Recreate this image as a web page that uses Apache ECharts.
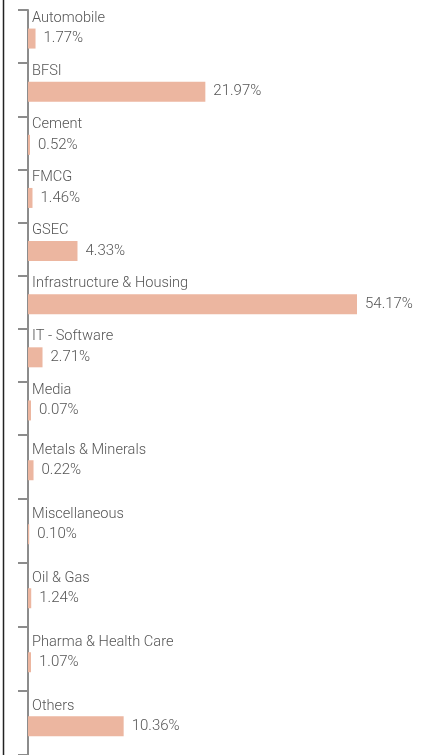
<!DOCTYPE html>
<html>
<head>
<meta charset="utf-8">
<script src="https://cdn.jsdelivr.net/npm/echarts@6/dist/echarts.min.js"></script>
<style>
  html, body { margin: 0; padding: 0; background: #fff; }
  #chart { width: 428px; height: 755px; }
</style>
</head>
<body>
<div id="chart"></div>
<script>
// sector names, top to bottom
const sectors = ['Automobile', 'BFSI', 'Cement', 'FMCG', 'GSEC', 'Infrastructure & Housing',
  'IT - Software', 'Media', 'Metals & Minerals', 'Miscellaneous', 'Oil & Gas',
  'Pharma & Health Care', 'Others']
// printed allocation labels
const shareLabels = ['1.77%', '21.97%', '0.52%', '1.46%', '4.33%', '54.17%',
  '2.71%', '0.07%', '0.22%', '0.10%', '1.24%', '1.07%', '10.36%']
// bar lengths as drawn in the picture (same units as the largest bar, 54.17)
const barLengths = [1.24, 29.2, 0.33, 0.74, 8.15, 54.17, 2.39, 0.49, 0.91, 0.2, 0.53, 0.49, 15.75]
// first block of rows uses tighter spacing than the rest
const splitAt = 8

const chart = echarts.init(document.getElementById('chart'))

const axisGray = '#8c8c8c'
const textGray = '#555'
const barColor = '#ecb6a0'
const font = 'Roboto'

function yAxisFor(gridIndex, names, lineHeight) {
  return {
    type: 'category',
    gridIndex: gridIndex,
    inverse: true,
    data: names,
    axisLine: { show: true, lineStyle: { color: axisGray, width: 2 } },
    axisTick: { show: true, inside: false, length: 10, lineStyle: { color: axisGray, width: 2 } },
    axisLabel: {
      inside: true,
      interval: 0,
      showMinLabel: true,
      showMaxLabel: true,
      hideOverlap: false,
      margin: 4,
      color: textGray,
      fontSize: 14.6,
      fontFamily: font,
      fontWeight: 300,
      lineHeight: lineHeight,
      // push the name above the bar
      formatter: v => v + '\n \n '
    }
  }
}

function seriesFor(gridIndex, from, to, spacer) {
  const rows = barLengths.slice(from, to)
  return [{
    // empty spacer so the visible bar sits a little low in its row
    type: 'bar',
    xAxisIndex: gridIndex,
    yAxisIndex: gridIndex,
    barWidth: spacer,
    barGap: 0,
    silent: true,
    itemStyle: { color: 'transparent' },
    data: rows.map(() => 0)
  }, {
    type: 'bar',
    xAxisIndex: gridIndex,
    yAxisIndex: gridIndex,
    barWidth: 20,
    barGap: 0,
    itemStyle: { color: barColor },
    label: {
      show: true,
      position: 'right',
      distance: 8,
      color: textGray,
      fontSize: 15,
      fontFamily: font,
      fontWeight: 300,
      formatter: p => shareLabels[from + p.dataIndex]
    },
    data: rows
  }]
}

const xAxisBase = { type: 'value', min: 0, max: 54.17, show: false }

chart.setOption({
  animation: false,
  grid: [
    { left: 28, width: 329, top: 10, height: 425 },
    { left: 28, width: 329, top: 435, height: 323 }
  ],
  xAxis: [
    Object.assign({ gridIndex: 0 }, xAxisBase),
    Object.assign({ gridIndex: 1 }, xAxisBase)
  ],
  yAxis: [
    yAxisFor(0, sectors.slice(0, splitAt), 18.5),
    yAxisFor(1, sectors.slice(splitAt), 17)
  ],
  series: [
    ...seriesFor(0, 0, splitAt, 4),
    ...seriesFor(1, splitAt, sectors.length, 6.5)
  ],
  graphic: [{
    type: 'line',
    shape: { x1: 3.5, y1: 0, x2: 3.5, y2: 755 },
    style: { stroke: '#222', lineWidth: 1.5 }
  }]
})
</script>
</body>
</html>
